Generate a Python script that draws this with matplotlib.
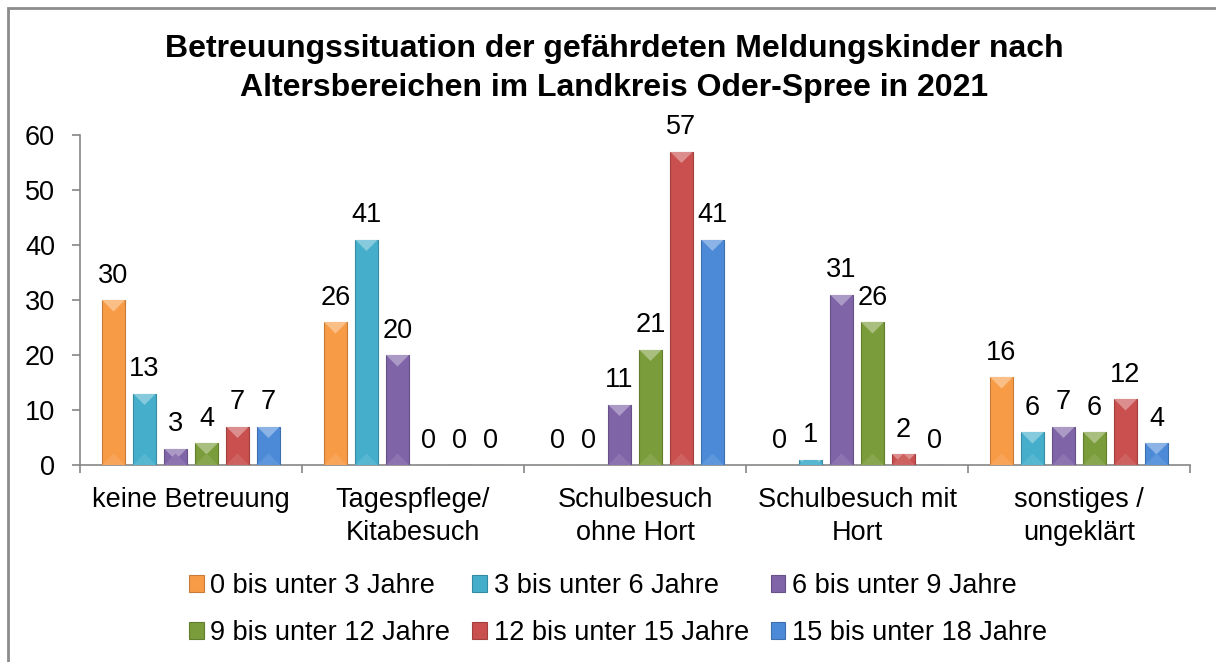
import matplotlib
matplotlib.use("Agg")
import matplotlib.pyplot as plt
from matplotlib.patches import Rectangle, Polygon
from matplotlib.colors import to_rgb
import numpy as np

categories = ["keine Betreuung", "Tagespflege/\nKitabesuch", "Schulbesuch\nohne Hort",
              "Schulbesuch mit\nHort", "sonstiges /\nungeklärt"]
series_names = ["0 bis unter 3 Jahre", "3 bis unter 6 Jahre", "6 bis unter 9 Jahre",
                "9 bis unter 12 Jahre", "12 bis unter 15 Jahre", "15 bis unter 18 Jahre"]
age_0_3 = [30, 26, 0, 0, 16]
age_3_6 = [13, 41, 0, 1, 6]
age_6_9 = [3, 20, 11, 31, 7]
age_9_12 = [4, 0, 21, 26, 6]
age_12_15 = [7, 0, 57, 2, 12]
age_15_18 = [7, 0, 41, 0, 4]
yticks = [0, 10, 20, 30, 40, 50, 60]
title = ("Betreuungssituation der gefährdeten Meldungskinder nach\n"
         "Altersbereichen im Landkreis Oder-Spree in 2021")

series = [age_0_3, age_3_6, age_6_9, age_9_12, age_12_15, age_15_18]
colors = ["#F79B46", "#44AECB", "#8064A8", "#7B9C3A", "#C9504F", "#4C8AD8"]

plt.rcParams['font.family'] = ['Liberation Sans', 'DejaVu Sans']
FS = 19.5

fig = plt.figure(figsize=(12.16, 6.62), dpi=100)
W, H = 1216, 662
ax = fig.add_axes([80 / W, 1 - 465 / H, (1190 - 80) / W, (465 - 135) / H])

def lighten(c, f):
    r = np.array(to_rgb(c))
    return tuple(r + (1 - r) * f)

def darken(c, f):
    r = np.array(to_rgb(c))
    return tuple(r * f)

n = len(series)
step = 0.1396
width = 0.1036
x = np.arange(len(categories))
ax.set_xlim(-0.5, len(categories) - 0.5)
ax.set_ylim(0, 60)
fig.canvas.draw()
ppu = ax.bbox.height / 60.0  # pixels per data unit
tri_h = (width / 2) * (ax.bbox.width / len(categories)) / ppu  # 45° bevel in data units

for i, (vals, col) in enumerate(zip(series, colors)):
    offs = (i - (n - 1) / 2) * step
    xs = x + offs
    bars = ax.bar(xs, vals, width=width, color=col, edgecolor=darken(col, 0.8),
                  linewidth=0.8, zorder=3, label=series_names[i])
    for b, v in zip(bars, vals):
        if v <= 0:
            continue
        x0 = b.get_x()
        x1 = x0 + b.get_width()
        xc = (x0 + x1) / 2
        top = Polygon([(x0, v), (x1, v), (xc, v - tri_h)], closed=True,
                      facecolor=lighten(col, 0.35), edgecolor='none', zorder=4)
        ax.add_patch(top)
        top.set_clip_path(b)
        bot = Polygon([(x0, 0), (x1, 0), (xc, tri_h)], closed=True,
                      facecolor=lighten(col, 0.10), edgecolor='none', zorder=4)
        ax.add_patch(bot)
        bot.set_clip_path(b)
    for xi, v in zip(xs, vals):
        ax.annotate(str(v), (xi, v), xytext=(0, 8), textcoords='offset points',
                    ha='center', va='bottom', fontsize=FS, color='black', zorder=5)

# axes styling
for s in ['top', 'right']:
    ax.spines[s].set_visible(False)
for s in ['left', 'bottom']:
    ax.spines[s].set_color('#868686')
    ax.spines[s].set_linewidth(1.2)
ax.set_yticks(yticks)
ax.tick_params(axis='y', length=6, width=1.2, color='#868686', pad=12, labelsize=FS)
ax.set_xticks(x)
ax.set_xticklabels(categories)
ax.tick_params(axis='x', which='major', length=0, pad=16, labelsize=FS)
ax.set_xticks(np.arange(len(categories) + 1) - 0.5, minor=True)
ax.tick_params(axis='x', which='minor', length=6, width=1.2, color='#868686')
for lab in ax.get_xticklabels():
    lab.set_linespacing(1.36)

fig.text(614 / W, 1 - 68.5 / H, title, ha='center', va='center', fontsize=23,
         fontweight='bold', linespacing=1.38)

leg_handles = [Rectangle((0, 0), 1, 1, facecolor=c, edgecolor=darken(c, 0.8), lw=0.8)
               for c in colors]
order = [0, 3, 1, 4, 2, 5]  # column-major fill -> row-major display
fig.legend([leg_handles[k] for k in order], [series_names[k] for k in order],
           loc='center', bbox_to_anchor=(618 / W, 1 - 609.5 / H), frameon=False, ncol=3,
           fontsize=FS, handlelength=0.55, handleheight=0.55, handletextpad=0.25,
           columnspacing=0.8, labelspacing=0.78, borderpad=0, borderaxespad=0)

# outer frame
fig.patches.append(Rectangle((8 / W, -0.1), 1.2, 1 - 8 / H + 0.1, transform=fig.transFigure,
                             fill=False, edgecolor='#8c8c8c', linewidth=2))

fig.savefig("out.png", dpi=100)
